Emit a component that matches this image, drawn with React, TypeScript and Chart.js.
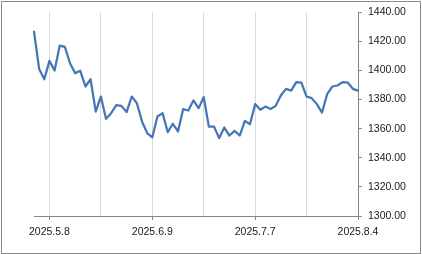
import React, { useEffect, useRef } from "react";
import { Chart, registerables } from "chart.js";

Chart.register(...registerables);

const categories: string[] = [
  "2025.4.30", "2025.5.2", "2025.5.7", "2025.5.8", "2025.5.9", "2025.5.12", "2025.5.13", "2025.5.14",
  "2025.5.15", "2025.5.16", "2025.5.19", "2025.5.20", "2025.5.21", "2025.5.22", "2025.5.23", "2025.5.26",
  "2025.5.27", "2025.5.28", "2025.5.29", "2025.5.30", "2025.6.2", "2025.6.4", "2025.6.5", "2025.6.9",
  "2025.6.10", "2025.6.11", "2025.6.12", "2025.6.13", "2025.6.16", "2025.6.17", "2025.6.18", "2025.6.19",
  "2025.6.20", "2025.6.23", "2025.6.24", "2025.6.25", "2025.6.26", "2025.6.27", "2025.6.30", "2025.7.1",
  "2025.7.2", "2025.7.3", "2025.7.4", "2025.7.7", "2025.7.8", "2025.7.9", "2025.7.10", "2025.7.11",
  "2025.7.14", "2025.7.15", "2025.7.16", "2025.7.17", "2025.7.18", "2025.7.21", "2025.7.22", "2025.7.23",
  "2025.7.24", "2025.7.25", "2025.7.28", "2025.7.29", "2025.7.30", "2025.7.31", "2025.8.1", "2025.8.4",
];

const values: number[] = [
  1426.7, 1401.1, 1394.0, 1406.6, 1400.0, 1417.1, 1416.2, 1405.0,
  1398.2, 1399.8, 1389.0, 1394.0, 1371.8, 1382.1, 1366.8, 1370.7,
  1376.2, 1375.7, 1371.4, 1382.1, 1377.6, 1365.0, 1357.0, 1354.0,
  1368.4, 1370.7, 1357.7, 1363.4, 1358.1, 1373.4, 1372.5, 1379.4,
  1374.1, 1381.7, 1361.5, 1361.5, 1353.5, 1360.8, 1355.3, 1358.5,
  1355.3, 1365.4, 1363.1, 1376.9, 1373.0, 1375.2, 1373.6, 1375.7,
  1382.8, 1387.4, 1386.2, 1392.0, 1391.7, 1382.1, 1381.0, 1376.9,
  1371.1, 1383.7, 1389.0, 1389.7, 1392.0, 1391.7, 1387.4, 1386.2,
];

const tickLabels: string[] = ["2025.5.8", "2025.6.9", "2025.7.7", "2025.8.4"];
const gridDates: string[] = [
  "2025.5.8", "2025.5.22", "2025.6.9", "2025.6.23", "2025.7.7", "2025.7.21", "2025.8.4",
];

const yMin = 1300;
const yMax = 1440;
const yStep = 20;

export default function App() {
  const canvasRef = useRef<HTMLCanvasElement | null>(null);

  useEffect(() => {
    const canvas = canvasRef.current;
    if (!canvas) return;
    const font = { family: "'Liberation Sans', Arial, sans-serif", size: 10.5 };
    const chart = new Chart(canvas, {
      type: "line",
      data: {
        labels: categories,
        datasets: [
          {
            data: values,
            borderColor: "#4676b6",
            borderWidth: 2.25,
            pointRadius: 0,
            tension: 0,
            borderJoinStyle: "round",
            borderCapStyle: "round",
            fill: false,
          },
        ],
      },
      options: {
        responsive: false,
        animation: false,
        devicePixelRatio: 1,
        layout: { padding: { left: 34, top: 12, right: 0, bottom: 0 } },
        plugins: { legend: { display: false }, tooltip: { enabled: false } },
        scales: {
          x: {
            type: "category",
            offset: false,
            afterFit: (scale: any) => {
              scale.height = 38;
            },
            grid: {
              display: true,
              drawOnChartArea: true,
              color: (ctx: any) =>
                gridDates.includes(categories[ctx.index]) ? "#d9d9d9" : "rgba(0,0,0,0)",
              tickColor: (ctx: any) =>
                tickLabels.includes(categories[ctx.index]) ? "#868686" : "rgba(0,0,0,0)",
              tickLength: 4,
              lineWidth: 1,
            },
            border: { display: true, color: "#868686", width: 1 },
            ticks: {
              autoSkip: false,
              maxRotation: 0,
              minRotation: 0,
              padding: 6,
              color: "#1a1a1a",
              font,
              callback: (_v: any, i: number) =>
                tickLabels.includes(categories[i]) ? categories[i] : "",
            },
          },
          y: {
            position: "right",
            min: yMin,
            max: yMax,
            afterFit: (scale: any) => {
              scale.width = 64;
            },
            grid: {
              display: true,
              drawOnChartArea: false,
              tickLength: 4,
              tickColor: "#868686",
            },
            border: { display: true, color: "#868686", width: 1 },
            ticks: {
              stepSize: yStep,
              padding: 6,
              color: "#1a1a1a",
              font,
              callback: (v: any) => Number(v).toFixed(2),
            },
          },
        },
      },
    } as any);
    return () => chart.destroy();
  }, []);

  return (
    <div style={{ position: "fixed", left: 0, top: 0, width: 422, height: 254, background: "#fff" }}>
      <canvas ref={canvasRef} width={422} height={254} style={{ position: "absolute", left: 0, top: 0 }} />
      <div
        style={{
          position: "absolute",
          left: 1,
          top: 1,
          width: 420,
          height: 253,
          boxSizing: "border-box",
          border: "1px solid #8a8a8a",
          pointerEvents: "none",
        }}
      />
    </div>
  );
}
